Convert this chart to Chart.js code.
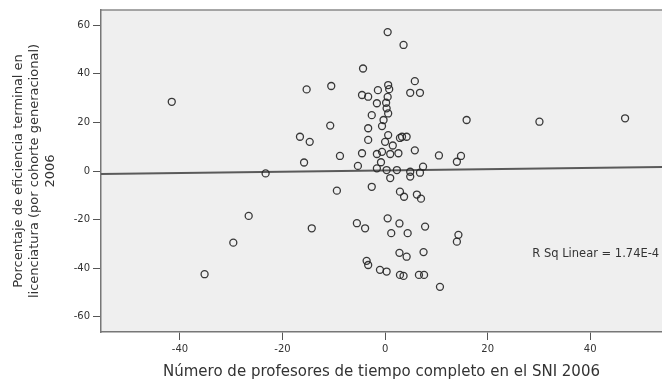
<!DOCTYPE html>
<html>
<head>
<meta charset="utf-8">
<script src="https://cdn.jsdelivr.net/npm/chart.js@4/dist/chart.umd.min.js"></script>
<style>
  html, body { margin: 0; padding: 0; background: #fff; }
</style>
</head>
<body>
<canvas id="chart" width="662" height="385"></canvas>
<script>
'use strict'

// values
const profesoresSni = [
  -41.6, -15.3, -10.5, 0.5, 3.6, -4.3, 5.8, 4.9, 6.8, 0.6,
  0.8, -1.4, -4.5, -3.3, -1.6, 0.2, 0.6, -2.6, -0.6, -3.3,
  -10.7, 0.6, 2.9, 4.2, 0.0, -16.6, -14.7, -3.3, 5.8, 10.5,
  -4.5, -1.6, -0.6, 1.0, 2.6, -8.8, -15.8, -5.3, -1.6, 0.3,
  2.3, 4.9, 7.4, 15.9, 30.1, 46.8, 14.0, 14.8, 4.9, 6.8,
  1.0, -23.3, 0.5, 0.3, -0.3, 1.5, -0.8, 3.3,
  -9.4, -2.6, 2.9, 3.7, 6.2, 7.0, -14.3, -5.5, -3.9, 0.5,
  2.8, 1.2, 4.4, 7.8, 14.3, 14.0, 2.8, 4.2, 7.5, -3.6,
  -3.3, -1.0, 0.3, 2.9, 3.6, 6.6, 7.6, 10.7, -26.6, -29.6,
  -35.2
]
const eficienciaTerminal = [
  28.5, 33.6, 35.0, 57.2, 51.9, 42.2, 37.0, 32.2, 32.2, 35.4,
  33.7, 33.3, 31.3, 30.6, 27.9, 28.1, 23.7, 23.0, 18.5, 17.6,
  18.7, 14.8, 13.6, 14.1, 12.0, 14.1, 12.0, 12.8, 8.5, 6.4,
  7.3, 7.0, 7.9, 7.0, 7.3, 6.2, 3.5, 2.1, 1.1, 0.4,
  0.4, -0.3, 1.8, 21.0, 20.3, 21.7, 3.8, 6.2, -2.3, -0.7,
  -2.9, -1.0, 30.5, 25.8, 21.0, 10.5, 3.6, 14.1,
  -8.1, -6.5, -8.5, -10.6, -9.7, -11.4, -23.6, -21.5, -23.6, -19.5,
  -21.6, -25.6, -25.6, -22.9, -26.3, -29.1, -33.7, -35.3, -33.4, -37.0,
  -38.7, -40.7, -41.4, -42.8, -43.2, -42.8, -42.8, -47.7, -18.5, -29.5,
  -42.5
]
const xTicks = [-40, -20, 0, 20, 40]
const yTicks = [-60, -40, -20, 0, 20, 40, 60]
const fitIntercept = 0.2
const fitSlope = 0.026
const rSqText = 'R Sq Linear = 1.74E-4'

const X_MIN = -55.4
const X_MAX = 54
const Y_MIN = -66.3
const Y_MAX = 66.3

const FONT = 'DejaVu Sans'
const TEXT = '#333'

const points = profesoresSni.map((x, i) => ({ x: x, y: eficienciaTerminal[i] }))
const fitLine = [X_MIN, X_MAX].map(x => ({ x: x, y: fitIntercept + fitSlope * x }))

const plotBackground = {
  id: 'plotBackground',
  beforeDraw (chart) {
    const { ctx, chartArea: a } = chart
    ctx.save()
    ctx.fillStyle = '#efefef'
    ctx.fillRect(a.left, a.top, a.right - a.left, a.bottom - a.top)
    ctx.strokeStyle = '#8a8a8a'
    ctx.lineWidth = 1.5
    ctx.beginPath()
    ctx.moveTo(a.left, a.top)
    ctx.lineTo(a.right, a.top)
    ctx.stroke()
    ctx.restore()
  }
}

const rSqLabel = {
  id: 'rSqLabel',
  afterDatasetsDraw (chart) {
    const { ctx, scales } = chart
    ctx.save()
    ctx.font = '11.5px ' + FONT
    ctx.fillStyle = TEXT
    ctx.textBaseline = 'middle'
    ctx.fillText(rSqText, scales.x.getPixelForValue(28.7), scales.y.getPixelForValue(-34))
    ctx.restore()
  }
}

new Chart(document.getElementById('chart'), {
  type: 'scatter',
  data: {
    datasets: [{
      type: 'line',
      data: fitLine,
      borderColor: '#5a5a5a',
      borderWidth: 2,
      pointRadius: 0,
      order: 2
    }, {
      data: points,
      pointStyle: 'circle',
      pointRadius: 3.5,
      borderWidth: 1.3,
      borderColor: 'rgba(35, 35, 35, 0.9)',
      backgroundColor: 'rgba(0, 0, 0, 0)',
      order: 1
    }]
  },
  options: {
    responsive: false,
    animation: false,
    // autoPadding keeps room for the fit line ends, the plot runs to the edge here
    layout: { autoPadding: false, padding: { top: 10, right: 0, bottom: 0, left: 0 } },
    plugins: { legend: { display: false }, tooltip: { enabled: false } },
    scales: {
      x: {
        type: 'linear',
        min: X_MIN,
        max: X_MAX,
        afterFit: s => { s.height = 53 },
        afterBuildTicks: s => { s.ticks = xTicks.map(v => ({ value: v })) },
        grid: { drawOnChartArea: false, drawTicks: true, tickLength: 8, color: '#555' },
        border: { display: true, color: '#777', width: 1.5 },
        ticks: { font: { family: FONT, size: 10 }, color: TEXT, padding: 3, maxRotation: 0 },
        title: {
          display: true,
          text: 'Número de profesores de tiempo completo en el SNI 2006',
          font: { family: FONT, size: 15 },
          color: TEXT,
          padding: { top: 0, bottom: 4 }
        }
      },
      y: {
        type: 'linear',
        min: Y_MIN,
        max: Y_MAX,
        afterFit: s => { s.width = 101 },
        afterBuildTicks: s => { s.ticks = yTicks.map(v => ({ value: v })) },
        grid: { drawOnChartArea: false, drawTicks: true, tickLength: 8, color: '#555' },
        border: { display: true, color: '#777', width: 1.5 },
        ticks: { font: { family: FONT, size: 10 }, color: TEXT, padding: 3 },
        title: {
          display: true,
          text: ['Porcentaje de eficiencia terminal en', 'licenciatura (por cohorte generacional)', '2006'],
          font: { family: FONT, size: 13, lineHeight: 1.25 },
          color: TEXT,
          padding: { top: 10, bottom: 0 }
        }
      }
    }
  },
  plugins: [plotBackground, rSqLabel]
})
</script>
</body>
</html>
